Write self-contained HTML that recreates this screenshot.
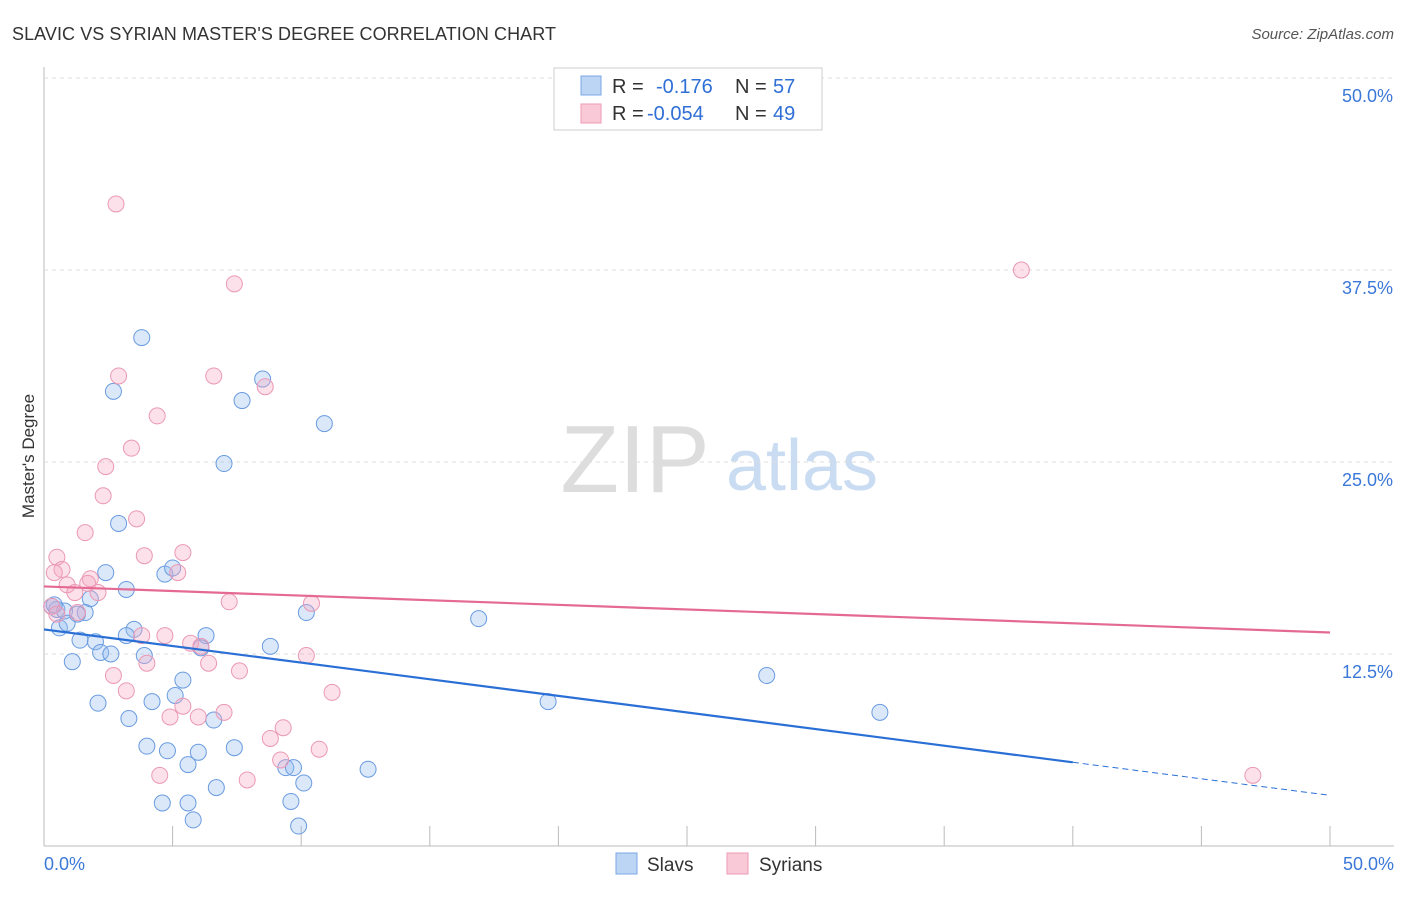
<!DOCTYPE html>
<html><head><meta charset="utf-8"><style>
body{margin:0;background:#fff;font-family:"Liberation Sans",sans-serif}
svg text{font-family:"Liberation Sans",sans-serif}
</style></head><body>
<svg id="chart" width="1406" height="892" xmlns="http://www.w3.org/2000/svg">
<text x="12" y="40" font-size="18" fill="#333" textLength="544">SLAVIC VS SYRIAN MASTER'S DEGREE CORRELATION CHART</text>
<text x="1394" y="39" font-size="15" fill="#555" font-style="italic" text-anchor="end">Source: ZipAtlas.com</text>
<text x="635" y="492" font-size="96" fill="#ddd" font-family="Liberation Serif" text-anchor="middle">ZIP</text>
<text x="802" y="490" font-size="72" fill="#c9dcf2" text-anchor="middle">atlas</text>
<text transform="translate(34,456) rotate(-90)" font-size="17" fill="#333" text-anchor="middle">Master's Degree</text>
<g id="grid"></g><g id="pts"></g><g id="lines"></g>
<g>
<rect x="554" y="68" width="268" height="62" fill="#fff" stroke="#ccc"/>
<rect x="581" y="76" width="20" height="19" fill="#bcd5f5" stroke="#7aa7e6"/>
<rect x="581" y="104" width="20" height="19" fill="#f9c9d8" stroke="#ee9ab5"/>
<text x="612" y="93" font-size="20" fill="#333">R =</text>
<text x="656" y="93" font-size="20" fill="#2f6fd6">-0.176</text>
<text x="735" y="93" font-size="20" fill="#333">N =</text>
<text x="773" y="93" font-size="20" fill="#2f6fd6">57</text>
<text x="612" y="120" font-size="20" fill="#333">R =</text>
<text x="647" y="120" font-size="20" fill="#2f6fd6">-0.054</text>
<text x="735" y="120" font-size="20" fill="#333">N =</text>
<text x="773" y="120" font-size="20" fill="#2f6fd6">49</text>
</g>
<g>
<rect x="616" y="853" width="21" height="21" fill="#bcd5f5" stroke="#7aa7e6"/>
<text x="647" y="871" font-size="19" fill="#333">Slavs</text>
<rect x="727" y="853" width="21" height="21" fill="#f9c9d8" stroke="#ee9ab5"/>
<text x="759" y="871" font-size="19" fill="#333">Syrians</text>
</g>
<text x="44" y="870" font-size="18" fill="#3b78d8">0.0%</text>
<text x="1394" y="870" font-size="18" fill="#3b78d8" text-anchor="end">50.0%</text>
</svg>
<script>
const yTicks=[12.5,25,37.5,50];
const yTickLabels=["12.5%","25.0%","37.5%","50.0%"];
const slavX=[3.8,2.7,8.5,7.7,10.9,7.0,2.9,2.4,4.7,5.0,3.2,1.8,0.3,0.5,0.8,1.6,1.3,10.2,16.9,0.6,0.9,3.5,3.2,6.3,1.4,2.0,2.2,2.6,6.1,8.8,3.9,1.1,5.4,5.1,4.2,2.1,3.3,6.6,28.1,19.6,32.5,4.0,4.8,6.0,7.4,5.6,9.4,9.7,12.6,6.7,10.1,4.6,5.6,9.6,5.8,9.9,0.4];
const slavY=[33.1,29.6,30.4,29.0,27.5,24.9,21.0,17.8,17.7,18.1,16.7,16.1,15.6,15.4,15.3,15.2,15.1,15.2,14.8,14.2,14.5,14.1,13.7,13.7,13.4,13.3,12.6,12.5,12.9,13.0,12.4,12.0,10.8,9.8,9.4,9.3,8.3,8.2,11.1,9.4,8.7,6.5,6.2,6.1,6.4,5.3,5.1,5.1,5.0,3.8,4.1,2.8,2.8,2.9,1.7,1.3,15.7];
const syrX=[2.8,7.4,38.0,2.9,6.6,8.6,4.4,3.4,2.4,2.3,1.6,3.6,0.5,3.9,5.4,0.7,0.4,5.2,0.9,1.8,1.7,2.1,7.2,10.4,1.2,0.3,0.5,1.3,3.8,4.7,5.7,6.1,10.2,4.0,6.4,7.6,2.7,3.2,11.2,5.4,4.9,6.0,7.0,9.3,8.8,10.7,4.5,7.9,47.0,9.2];
const syrY=[41.8,36.6,37.5,30.6,30.6,29.9,28.0,25.9,24.7,22.8,20.4,21.3,18.8,18.9,19.1,18.0,17.8,17.8,17.0,17.4,17.1,16.5,15.9,15.8,16.5,15.6,15.1,15.2,13.7,13.7,13.2,13.0,12.4,11.9,11.9,11.4,11.1,10.1,10.0,9.1,8.4,8.4,8.7,7.7,7.0,6.3,4.6,4.3,4.6,5.6];
const slavTrend=[14.1,5.45,3.3];
const syrTrend=[16.9,13.9];
const X=v=>44+v/50*1286, Y=v=>846-v/50*768;
const ns="http://www.w3.org/2000/svg";
function mk(t,a,p){const e=document.createElementNS(ns,t);for(const k in a)e.setAttribute(k,a[k]);p.appendChild(e);return e;}
const grid=document.getElementById('grid');
const ax=mk('line',{x1:44,y1:67,x2:44,y2:846,stroke:'#bbb'},grid);


const bx=mk('line',{x1:44,y1:846,x2:1394,y2:846,stroke:'#bbb'},grid);


for(let i=0;i<=10;i++){const t=mk('line',{x1:X(i*5),y1:826,x2:X(i*5),y2:846,stroke:'#bbb'},grid);

}
yTicks.forEach((v,i)=>{const g=mk('line',{x1:44,y1:Y(v),x2:1394,y2:Y(v),stroke:'#ddd','stroke-dasharray':'4 4'},grid);


const t=mk('text',{x:1393,y:Y(v)+24,'font-size':18,fill:'#3b78d8','text-anchor':'end'},grid);t.textContent=yTickLabels[i];

});
const pts=document.getElementById('pts');
slavX.forEach((x,i)=>{const c=mk('circle',{cx:X(x),cy:Y(slavY[i]),r:8,fill:'rgba(150,190,240,0.35)',stroke:'#6a9be0','stroke-width':1},pts);

});
syrX.forEach((x,i)=>{const c=mk('circle',{cx:X(x),cy:Y(syrY[i]),r:8,fill:'rgba(245,170,195,0.35)',stroke:'#eb98b4','stroke-width':1},pts);

});
const L=document.getElementById('lines');
const b1=mk('line',{x1:X(0),y1:Y(slavTrend[0]),x2:X(40),y2:Y(slavTrend[1]),stroke:'#2a6fd6','stroke-width':2.2},L);


const b2=mk('line',{x1:X(40),y1:Y(slavTrend[1]),x2:X(50),y2:Y(slavTrend[2]),stroke:'#2a6fd6','stroke-width':1,'stroke-dasharray':'6 4'},L);


const p1=mk('line',{x1:X(0),y1:Y(syrTrend[0]),x2:X(50),y2:Y(syrTrend[1]),stroke:'#e46a94','stroke-width':2.2},L);


</script>
</body></html>
